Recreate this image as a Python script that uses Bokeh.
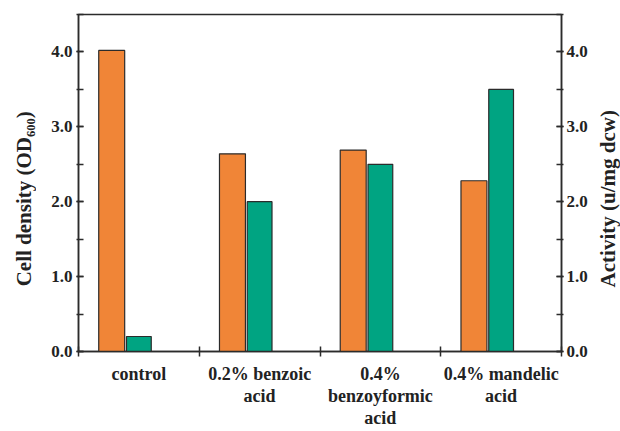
import numpy as np
from bokeh.plotting import figure
from bokeh.layouts import row
from bokeh.models import (Range1d, LinearAxis, FixedTicker, SingleIntervalTicker,
                          PrintfTickFormatter, ColumnDataSource)
from bokeh.transform import dodge
from bokeh.embed import file_html
from bokeh.resources import INLINE

categories = ["control", "0.2% benzoic\nacid", "0.4%\nbenzoyformic\nacid", "0.4% mandelic\nacid"]
cell_density = [4.02, 2.64, 2.69, 2.28]
activity = [0.20, 2.00, 2.50, 3.50]
left_title = "Cell density (OD₆₀₀)"
right_title = "Activity (u/mg dcw)"

ORANGE = "#F08537"
GREEN = "#00A482"
EDGE = "#2b2b2b"
TXT = "#222222"
FONT = "Liberation Serif"
H = 430
TOP, BOTTOM = 14, 78
PAD = "\u00a0" * 6   # nudges the rotated titles slightly below the frame centre

centers = np.arange(len(categories)) + 0.5
src = ColumnDataSource(dict(x=centers, od=cell_density, act=activity))

# ---------- main chart ----------
p = figure(width=561, height=H, output_backend="svg", toolbar_location=None,
           x_range=Range1d(0, len(categories)), y_range=Range1d(0, 4.5),
           min_border_left=42, min_border_right=36, min_border_top=TOP, min_border_bottom=BOTTOM)
p.extra_y_ranges = {"act": Range1d(0, 4.5)}
p.xgrid.visible = False
p.ygrid.visible = False
p.outline_line_color = EDGE
p.outline_line_width = 1.5
p.yaxis.visible = False
p.xaxis.visible = False

p.vbar(x=dodge("x", -0.225), top="od", width=0.215, source=src,
       fill_color=ORANGE, line_color=EDGE, line_width=1.2)
p.vbar(x="x", top="act", width=0.205, source=src, y_range_name="act",
       fill_color=GREEN, line_color=EDGE, line_width=1.2)

def style_y(ax):
    ax.ticker = SingleIntervalTicker(interval=1, num_minor_ticks=2)
    ax.formatter = PrintfTickFormatter(format="%.1f")
    ax.axis_line_color = EDGE
    ax.axis_line_width = 1.5
    ax.major_tick_line_color = EDGE
    ax.minor_tick_line_color = EDGE
    ax.major_tick_line_width = 1.5
    ax.minor_tick_line_width = 1.5
    ax.major_tick_in = 5
    ax.major_tick_out = 2
    ax.minor_tick_in = 5
    ax.minor_tick_out = 2
    ax.major_label_text_font = FONT
    ax.major_label_text_font_style = "bold"
    ax.major_label_text_font_size = "17px"
    ax.major_label_text_color = TXT
    ax.major_label_standoff = 4

left = LinearAxis()
style_y(left)
p.add_layout(left, "left")

right = LinearAxis(y_range_name="act")
style_y(right)
right.major_label_standoff = 3
p.add_layout(right, "right")

bottom = LinearAxis(ticker=FixedTicker(ticks=list(centers),
                                       minor_ticks=list(range(len(categories) + 1))))
bottom.major_label_overrides = {float(c): lab for c, lab in zip(centers, categories)}
bottom.axis_line_color = EDGE
bottom.axis_line_width = 1.5
bottom.major_tick_in = 0
bottom.major_tick_out = 0
bottom.minor_tick_line_color = EDGE
bottom.minor_tick_line_width = 1.5
bottom.minor_tick_in = 5
bottom.minor_tick_out = 5
bottom.major_label_standoff = 7
bottom.major_label_text_font = FONT
bottom.major_label_text_font_style = "bold"
bottom.major_label_text_font_size = "18px"
bottom.major_label_text_color = TXT
bottom.major_label_text_line_height = 1.1
p.add_layout(bottom, "below")

# ---------- side strips carrying the vertical axis titles ----------
def title_strip(width, label, left_border):
    f = figure(width=width, height=H, output_backend="svg", toolbar_location=None,
               x_range=Range1d(0, 1), y_range=Range1d(0, 1),
               min_border_left=left_border, min_border_right=0,
               min_border_top=TOP, min_border_bottom=BOTTOM)
    f.xgrid.visible = False
    f.ygrid.visible = False
    f.outline_line_color = None
    f.xaxis.visible = False
    f.yaxis.visible = False
    ax = LinearAxis(ticker=FixedTicker(ticks=[]), axis_label=label + PAD)
    ax.axis_line_color = None
    ax.major_tick_line_color = None
    ax.minor_tick_line_color = None
    ax.major_tick_out = 0
    ax.major_tick_in = 0
    ax.minor_tick_out = 0
    ax.minor_tick_in = 0
    ax.major_label_text_font_size = "0px"
    ax.axis_label_standoff = 0
    ax.axis_label_text_font = FONT
    ax.axis_label_text_font_style = "bold"
    ax.axis_label_text_font_size = "21px"
    ax.axis_label_text_color = TXT
    f.add_layout(ax, "left")
    return f

p_left = title_strip(36, left_title, 35)
p_right = title_strip(22, right_title, 21)

layout = row(p_left, p, p_right)

open("out.html", "w").write(file_html(layout, INLINE))
